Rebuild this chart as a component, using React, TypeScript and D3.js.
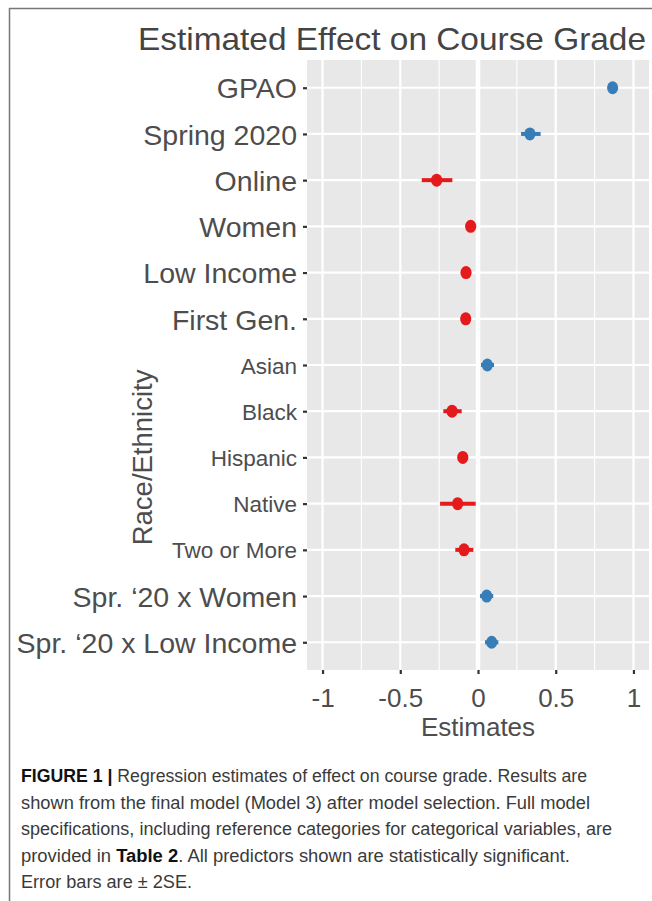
import React, { useEffect, useRef } from "react";
import * as d3 from "d3";

// coefficient estimates
const labels = [
  "GPAO",
  "Spring 2020",
  "Online",
  "Women",
  "Low Income",
  "First Gen.",
  "Asian",
  "Black",
  "Hispanic",
  "Native",
  "Two or More",
  "Spr. \u201820 x Women",
  "Spr. \u201820 x Low Income",
];
const estimates = [0.866, 0.334, -0.266, -0.047, -0.077, -0.079, 0.06, -0.167, -0.098, -0.131, -0.09, 0.056, 0.088];
const lower = [0.852, 0.277, -0.362, -0.062, -0.092, -0.096, 0.019, -0.223, -0.114, -0.244, -0.146, 0.013, 0.045];
const upper = [0.88, 0.403, -0.165, -0.032, -0.062, -0.062, 0.103, -0.105, -0.082, -0.015, -0.03, 0.098, 0.131];
const raceGroup = ["Asian", "Black", "Hispanic", "Native", "Two or More"];

const xTicks = [-1, -0.5, 0, 0.5, 1];
const xTickLabels = ["-1", "-0.5", "0", "0.5", "1"];
const xMinor = [-0.75, -0.25, 0.25, 0.75];

const title = "Estimated Effect on Course Grade";
const xTitle = "Estimates";
const yTitle = "Race/Ethnicity";

// caption lines: [text, bold?] segments
const captionLines: [string, boolean][][] = [
  [["FIGURE 1 | ", true], ["Regression estimates of effect on course grade. Results are", false]],
  [["shown from the final model (Model 3) after model selection. Full model", false]],
  [["specifications, including reference categories for categorical variables, are", false]],
  [["provided in ", false], ["Table 2", true], [". All predictors shown are statistically significant.", false]],
  [["Error bars are \u00b1 2SE.", false]],
];
const captionWidths = [566, 569, 591, 549, 171];

const W = 652;
const H = 901;
const panel = { left: 307, right: 649, top: 60, bottom: 670 };
const font = "'Liberation Sans', Arial, Helvetica, sans-serif";

export default function App() {
  const svgRef = useRef<SVGSVGElement>(null);

  useEffect(() => {
    const svg = d3.select(svgRef.current);
    svg.selectAll("*").remove();

    const x = d3.scaleLinear().domain([-1.1, 1.1]).range([panel.left, panel.right]);
    const y = d3.scalePoint<string>().domain(labels).range([panel.top, panel.bottom]).padding(0.6);

    // frame around the figure
    svg.append("line").attr("x1", 9).attr("x2", W).attr("y1", 8.5).attr("y2", 8.5)
      .attr("stroke", "#777").attr("stroke-width", 1.5);
    svg.append("line").attr("x1", 9.5).attr("x2", 9.5).attr("y1", 8).attr("y2", H)
      .attr("stroke", "#777").attr("stroke-width", 1.5);

    // panel
    svg.append("rect")
      .attr("x", panel.left).attr("y", panel.top)
      .attr("width", panel.right - panel.left).attr("height", panel.bottom - panel.top)
      .attr("fill", "#e8e8e8");

    const grid = svg.append("g").attr("stroke", "#fff");
    grid.selectAll(".minor").data(xMinor).join("line")
      .attr("x1", (d) => x(d)).attr("x2", (d) => x(d))
      .attr("y1", panel.top).attr("y2", panel.bottom).attr("stroke-width", 1.1);
    grid.selectAll(".major").data(xTicks).join("line")
      .attr("x1", (d) => x(d)).attr("x2", (d) => x(d))
      .attr("y1", panel.top).attr("y2", panel.bottom).attr("stroke-width", 2.2);
    grid.selectAll(".hmajor").data(labels).join("line")
      .attr("x1", panel.left).attr("x2", panel.right)
      .attr("y1", (d) => y(d)!).attr("y2", (d) => y(d)!).attr("stroke-width", 2.2);
    // zero reference line
    grid.append("line").attr("x1", x(0)).attr("x2", x(0))
      .attr("y1", panel.top).attr("y2", panel.bottom).attr("stroke-width", 4.5);

    // error bars + points
    const colorOf = (v: number) => (v >= 0 ? "#377eb8" : "#e41a1c");
    svg.append("g").selectAll("line").data(labels).join("line")
      .attr("x1", (d, i) => x(lower[i])).attr("x2", (d, i) => x(upper[i]))
      .attr("y1", (d) => y(d)!).attr("y2", (d) => y(d)!)
      .attr("stroke", (d, i) => colorOf(estimates[i])).attr("stroke-width", 4);
    svg.append("g").selectAll("ellipse").data(labels).join("ellipse")
      .attr("cx", (d, i) => x(estimates[i])).attr("cy", (d) => y(d)!)
      .attr("rx", 5.6).attr("ry", 6.5)
      .attr("fill", (d, i) => colorOf(estimates[i]));

    // x axis
    const xAxis = svg.append("g").attr("transform", `translate(0,${panel.bottom})`)
      .call(d3.axisBottom(x).tickValues(xTicks).tickFormat((d, i) => xTickLabels[i]).tickSize(4).tickPadding(15));
    xAxis.select(".domain").remove();
    xAxis.selectAll(".tick line").attr("stroke", "#333").attr("stroke-width", 2.2);
    xAxis.selectAll(".tick text").attr("fill", "#4d4d4d").style("font", `26px ${font}`);

    // y axis
    const yAxis = svg.append("g").attr("transform", `translate(${panel.left},0)`)
      .call(d3.axisLeft(y).tickSize(4).tickPadding(6));
    yAxis.select(".domain").remove();
    yAxis.selectAll(".tick line").attr("stroke", "#333").attr("stroke-width", 2.2);
    yAxis.selectAll<SVGTextElement, string>(".tick text")
      .attr("fill", "#4d4d4d")
      .attr("dy", "0.36em")
      .style("font", (d) => `${raceGroup.includes(d) ? 22.5 : 28.5}px ${font}`);

    // titles
    svg.append("text").text(title)
      .attr("x", 138).attr("y", 50)
      .attr("textLength", 508).attr("lengthAdjust", "spacingAndGlyphs")
      .attr("fill", "#444").style("font", `32px ${font}`);
    svg.append("text").text(xTitle)
      .attr("x", x(0)).attr("y", 736).attr("text-anchor", "middle")
      .attr("fill", "#4d4d4d").style("font", `26px ${font}`);
    const raceMid = ((y("Asian") as number) + (y("Two or More") as number)) / 2;
    svg.append("text").text(yTitle)
      .attr("transform", `translate(152,${raceMid}) rotate(-90)`)
      .attr("text-anchor", "middle")
      .attr("fill", "#4d4d4d").style("font", `27.5px ${font}`);

    // caption
    const cap = svg.append("g").attr("fill", "#3a3a3a").style("font", `17.5px ${font}`);
    captionLines.forEach((segs, li) => {
      const t = cap.append("text")
        .attr("x", 21).attr("y", 782 + li * 26.6)
        .attr("textLength", captionWidths[li]).attr("lengthAdjust", "spacingAndGlyphs");
      segs.forEach(([s, b]) => {
        t.append("tspan").text(s).attr("font-weight", b ? "bold" : "normal")
          .attr("fill", b ? "#111" : "#3a3a3a");
      });
    });
  }, []);

  return (
    <svg
      ref={svgRef}
      width={W}
      height={H}
      style={{ position: "absolute", left: 0, top: 0, background: "#fff" }}
    />
  );
}
